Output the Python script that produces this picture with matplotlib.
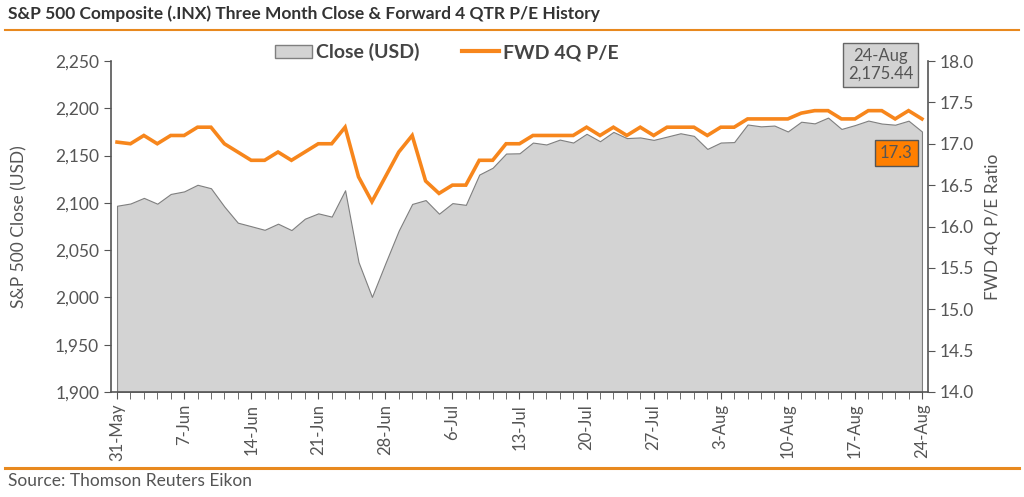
import matplotlib
matplotlib.use('Agg')
import matplotlib.pyplot as plt
from matplotlib.patches import Patch
from matplotlib.lines import Line2D

plt.rcParams['font.family'] = ['Lato', 'DejaVu Sans']

# trading days 31-May .. 24-Aug 2016
close = [2096.95, 2099.33, 2105.26, 2099.13, 2109.41, 2112.13, 2119.12, 2115.48, 2096.07,
         2079.06, 2075.32, 2071.50, 2077.99, 2071.22, 2083.25, 2088.90, 2085.45, 2113.32,
         2037.41, 2000.54, 2036.09, 2070.77, 2098.86, 2102.95, 2088.55, 2099.73, 2097.90,
         2129.90, 2137.16, 2152.14, 2152.43, 2163.75, 2161.74, 2166.89, 2163.78, 2173.02,
         2165.17, 2175.03, 2168.48, 2169.18, 2166.58, 2170.06, 2173.60, 2170.84, 2157.03,
         2163.79, 2164.25, 2182.87, 2180.89, 2181.74, 2175.49, 2185.79, 2184.05, 2190.15,
         2178.15, 2182.22, 2187.02, 2183.87, 2182.64, 2186.90, 2175.44]
pe = [17.02, 17.0, 17.1, 17.0, 17.1, 17.1, 17.2, 17.2, 17.0, 16.9, 16.8, 16.8, 16.9, 16.8,
      16.9, 17.0, 17.0, 17.2, 16.6, 16.3, 16.6, 16.9, 17.1, 16.55, 16.4, 16.5, 16.5, 16.8,
      16.8, 17.0, 17.0, 17.1, 17.1, 17.1, 17.1, 17.2, 17.1, 17.2, 17.1, 17.2, 17.1, 17.2,
      17.2, 17.2, 17.1, 17.2, 17.2, 17.3, 17.3, 17.3, 17.3, 17.37, 17.4, 17.4, 17.3, 17.3,
      17.4, 17.4, 17.3, 17.4, 17.3]
tick_labels = ['31-May', '7-Jun', '14-Jun', '21-Jun', '28-Jun', '6-Jul', '13-Jul',
               '20-Jul', '27-Jul', '3-Aug', '10-Aug', '17-Aug', '24-Aug']
left_ticks = [1900, 1950, 2000, 2050, 2100, 2150, 2200, 2250]
right_ticks = [14.0, 14.5, 15.0, 15.5, 16.0, 16.5, 17.0, 17.5, 18.0]

ORANGE = '#F7861C'
TXT = '#555555'
x = list(range(len(close)))

fig = plt.figure(figsize=(10.24, 4.97), dpi=100)
ax = fig.add_axes([111 / 1024, 1 - 392 / 497, (928 - 111) / 1024, (392 - 61) / 497])
ax.fill_between(x, 1900, close, facecolor='#D3D3D3', edgecolor='#7f7f7f', linewidth=0.8)
ax.set_xlim(-0.45, 60.45)
ax.set_ylim(1900, 2250)
ax.set_yticks(left_ticks)
ax.set_yticklabels([f'{v:,}' for v in left_ticks])
ax.set_xticks(range(0, 61, 5))
ax.set_xticklabels(tick_labels, rotation=90)
ax.set_xticks(range(61), minor=True)
ax.set_ylabel('S&P 500 Close (USD)', fontsize=12.5, color=TXT, labelpad=20)

ax2 = ax.twinx()
ax2.plot(x, pe, color=ORANGE, linewidth=2.6, solid_joinstyle='miter')
ax2.set_ylim(14, 18)
ax2.set_yticks(right_ticks)
ax2.set_yticklabels([f'{v:.1f}' for v in right_ticks])
ax2.set_ylabel('FWD 4Q P/E Ratio', fontsize=12.5, color=TXT, labelpad=8)

for a in (ax, ax2):
    a.spines['top'].set_visible(False)
    for s in ('left', 'right', 'bottom'):
        a.spines[s].set_color('#555555')
        a.spines[s].set_linewidth(1.2)
    a.tick_params(axis='y', colors='#555555', labelcolor=TXT, labelsize=12.5, length=5)
ax.spines['right'].set_visible(False)
ax2.spines['left'].set_visible(False)
ax2.spines['bottom'].set_visible(False)
ax.tick_params(axis='x', which='both', colors='#555555', labelcolor=TXT, labelsize=12,
               length=5, direction='out')

# value boxes
ax.text(0.942, 0.988, '24-Aug\n2,175.44', transform=ax.transAxes, ha='center', va='center',
        fontsize=12, color=TXT, linespacing=1.15,
        bbox=dict(boxstyle='square,pad=0.3', facecolor='#D3D3D3', edgecolor='#666666', lw=1))
ax.text(0.961, 0.722, '17.3', transform=ax.transAxes, ha='center', va='center',
        fontsize=12, color=TXT,
        bbox=dict(boxstyle='square,pad=0.3', facecolor='#FF7F00', edgecolor='#555555', lw=1))

handles = [Patch(facecolor='#D3D3D3', edgecolor='#7f7f7f'),
           Line2D([], [], color=ORANGE, linewidth=3)]
leg = fig.legend(handles, ['Close (USD)', 'FWD 4Q P/E'], loc='center', bbox_to_anchor=(0.4365, 0.895),
                 ncol=2, frameon=False, fontsize=14, handlelength=1.9, handletextpad=0.2,
                 columnspacing=2.2)
for t in leg.get_texts():
    t.set_color('#444444')
    t.set_fontweight('bold')

fig.text(0.008, 0.972, 'S&P 500 Composite (.INX) Three Month Close & Forward 4 QTR P/E History',
         fontsize=12.5, fontweight='bold', color='#333333', va='center')
fig.add_artist(Line2D([0.005, 0.995], [1 - 30 / 497] * 2, color='#E8891E', lw=1.5))
fig.add_artist(Line2D([0.005, 0.995], [1 - 468 / 497] * 2, color='#E8891E', lw=2.2))
fig.text(0.008, 1 - 481 / 497, 'Source: Thomson Reuters Eikon', fontsize=12.5, color=TXT, va='center')

fig.savefig('out.png', dpi=100)
